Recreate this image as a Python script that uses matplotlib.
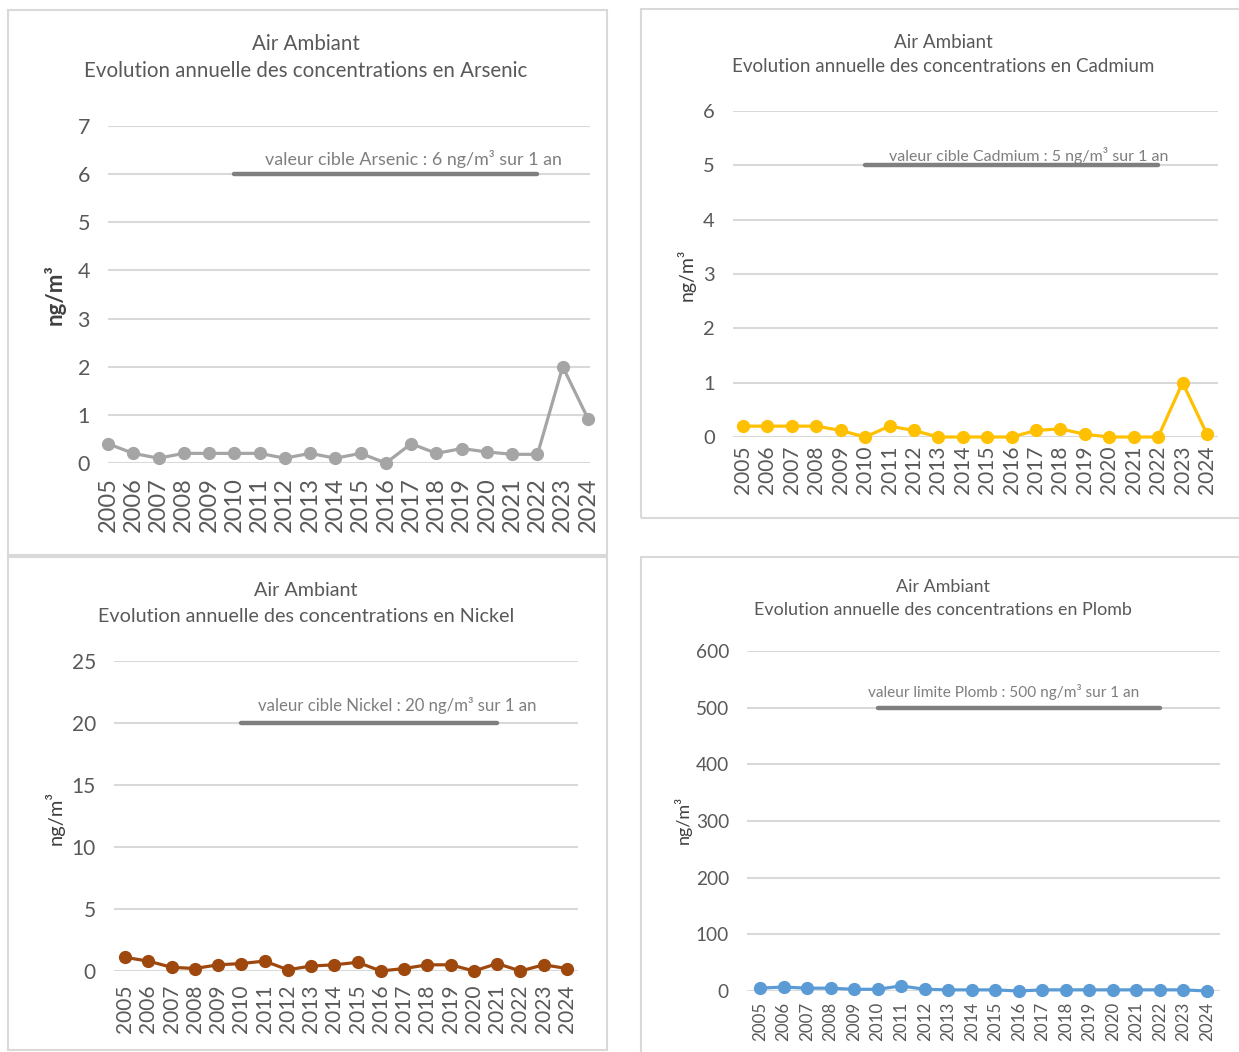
import numpy as np
import matplotlib
matplotlib.use('Agg')
from matplotlib import pyplot as plt
from matplotlib.patches import Rectangle

plt.rcParams['font.family'] = ['Lato', 'DejaVu Sans']

years = [str(y) for y in range(2005, 2025)]

arsenic = [0.4, 0.2, 0.1, 0.2, 0.2, 0.2, 0.2, 0.1, 0.2, 0.1,
           0.2, 0.0, 0.4, 0.2, 0.3, 0.23, 0.18, 0.18, 2.0, 0.92]
cadmium = [0.2, 0.2, 0.2, 0.2, 0.12, 0.0, 0.2, 0.12, 0.0, 0.0,
           0.0, 0.0, 0.12, 0.15, 0.05, 0.0, 0.0, 0.0, 1.0, 0.05]
nickel = [1.1, 0.8, 0.3, 0.2, 0.5, 0.6, 0.8, 0.1, 0.4, 0.5,
          0.7, 0.0, 0.2, 0.5, 0.5, 0.0, 0.6, 0.0, 0.5, 0.2]
plomb = [5, 7, 5, 5, 3, 3, 9, 3, 2, 2,
         2, 0, 2, 2, 2, 2, 2, 2, 2, 0]

# seuils reglementaires: valeur, annee debut, annee fin
seuil_arsenic = (6, 2010, 2022)
seuil_cadmium = (5, 2010, 2022)
seuil_nickel = (20, 2010, 2021)
seuil_plomb = (500, 2010, 2022)

titles = ['Evolution annuelle des concentrations en Arsenic',
          'Evolution annuelle des concentrations en Cadmium',
          'Evolution annuelle des concentrations en Nickel',
          'Evolution annuelle des concentrations en Plomb']
seuil_labels = ['valeur cible Arsenic : 6 ng/m³ sur 1 an',
                'valeur cible Cadmium : 5 ng/m³ sur 1 an',
                'valeur cible Nickel : 20 ng/m³ sur 1 an',
                'valeur limite Plomb : 500 ng/m³ sur 1 an']

W, H = 1239, 1052
fig = plt.figure(figsize=(W/100, H/100), dpi=100)
fig.patch.set_facecolor('white')

GRID = '#d9d9d9'
TXT = '#595959'

# panel borders (pixels: left, top, right, bottom)
borders = [(8, 10, 607, 555), (641, 9, 1245, 518), (8, 557, 607, 1050), (641, 557, 1245, 1060)]
for l, t, r, b in borders:
    fig.patches.append(Rectangle((l/W, 1-b/H), (r-l)/W, (b-t)/H, transform=fig.transFigure,
                                 facecolor='none', edgecolor=GRID, lw=1.5, zorder=0))

# layout per panel
panels = [
    dict(data=arsenic, seuil=seuil_arsenic, color='#a5a5a5', ymax=7, step=1,
         box=(108, 126, 590, 463), x0=107, x19=588, cx=306, ty=(44, 71), tfs=14.8,
         yl=(55, 295), ylfs=16, ylw='bold', tickfs=15.5, yearfs=17, lab=(265, 159), labfs=12.9, xpad=10),
    dict(data=cadmium, seuil=seuil_cadmium, color='#ffc000', ymax=6, step=1,
         box=(733, 111, 1218, 437), x0=743, x19=1207, cx=943, ty=(42, 67), tfs=13.5,
         yl=(686, 275), ylfs=14, ylw='normal', tickfs=14.5, yearfs=15, lab=(889, 155), labfs=11.5, xpad=6),
    dict(data=nickel, seuil=seuil_nickel, color='#9e480e', ymax=25, step=5,
         box=(114, 661, 578, 971), x0=125, x19=567, cx=306, ty=(590, 616), tfs=14.2,
         yl=(55, 818), ylfs=14.5, ylw='normal', tickfs=15, yearfs=15, lab=(258, 705), labfs=12.1, xpad=10),
    dict(data=plomb, seuil=seuil_plomb, color='#5b9bd5', ymax=600, step=100,
         box=(747, 651, 1220, 991), x0=760, x19=1207, cx=943, ty=(587, 610), tfs=12.9,
         yl=(683, 820), ylfs=13, ylw='normal', tickfs=13.7, yearfs=12.2, lab=(868, 692), labfs=11.1, xpad=8),
]

for i, p in enumerate(panels):
    l, t, r, b = p['box']
    ax = fig.add_axes([l/W, 1-b/H, (r-l)/W, (b-t)/H])
    n = len(years)
    scale = (p['x19'] - p['x0']) / (n - 1)
    ax.set_xlim(-(p['x0'] - l)/scale, (n - 1) + (r - p['x19'])/scale)
    ax.set_ylim(0, p['ymax'])
    x = np.arange(n)

    ax.set_yticks(np.arange(0, p['ymax'] + p['step'], p['step']))
    ax.yaxis.grid(True, color=GRID, lw=1.5)
    ax.set_axisbelow(True)
    for s in ax.spines.values():
        s.set_visible(False)
    ax.set_xticks(x)
    ax.set_xticklabels(years, rotation=90, fontsize=p['yearfs'], color=TXT)
    ax.tick_params(axis='x', length=0, pad=p['xpad'])
    ax.tick_params(axis='y', length=0, pad=13, labelsize=p['tickfs'], labelcolor=TXT)

    # seuil
    val, y0, y1 = p['seuil']
    ax.plot([years.index(str(y0)), years.index(str(y1))], [val, val], color='#7f7f7f',
            lw=3.2, solid_capstyle='round', zorder=3)

    ax.plot(x, p['data'], color=p['color'], lw=2.3, marker='o', ms=8.5, zorder=4, clip_on=False)

    fig.text(p['cx']/W, 1 - p['ty'][0]/H, 'Air Ambiant', ha='center', va='center',
             fontsize=p['tfs'], color=TXT)
    fig.text(p['cx']/W, 1 - p['ty'][1]/H, titles[i], ha='center', va='center',
             fontsize=p['tfs'], color=TXT)
    fig.text(p['yl'][0]/W, 1 - p['yl'][1]/H, 'ng/m³', rotation=90, ha='center', va='center',
             fontsize=p['ylfs'], fontweight=p['ylw'], color='#404040')
    fig.text(p['lab'][0]/W, 1 - p['lab'][1]/H, seuil_labels[i], ha='left', va='center',
             fontsize=p['labfs'], color='#7f7f7f')

fig.savefig('out.png', dpi=100)
